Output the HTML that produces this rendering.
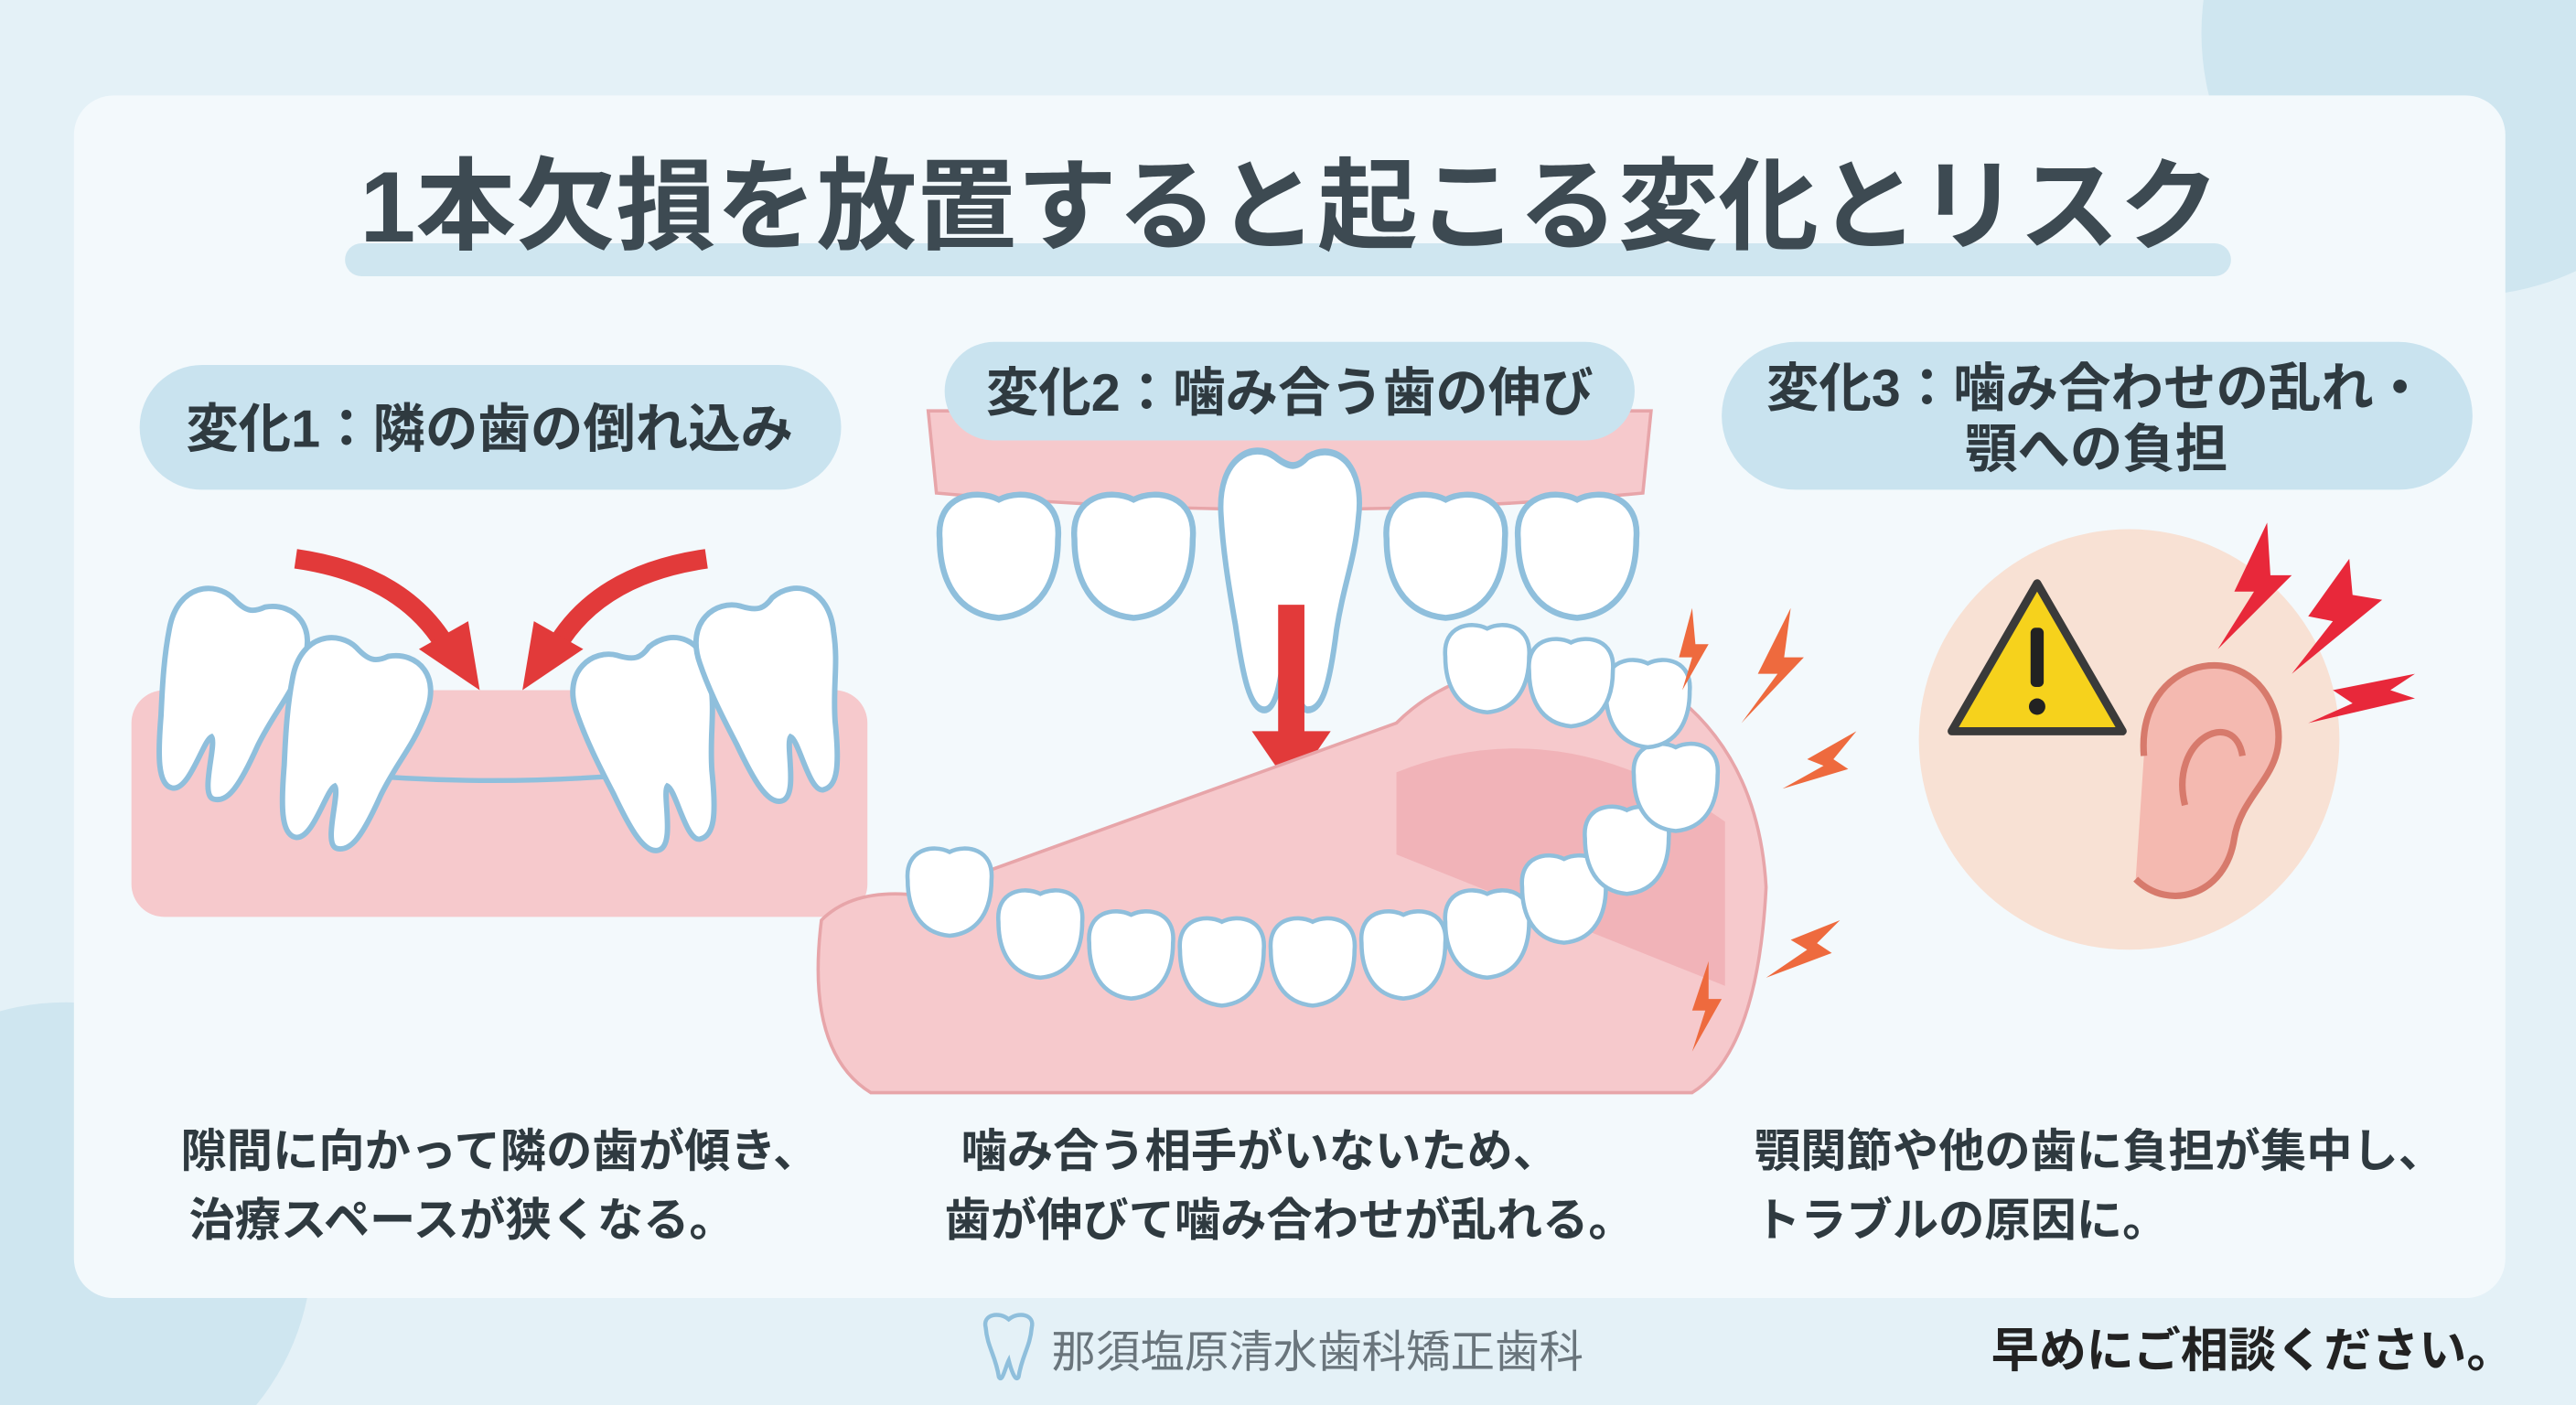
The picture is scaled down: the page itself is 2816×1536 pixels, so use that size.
<!DOCTYPE html>
<html><head><meta charset="utf-8">
<style>
html,body{margin:0;padding:0;background:#e4f1f7;width:2816px;height:1536px;overflow:hidden;}
svg{display:block;}
text{font-family:"Liberation Sans","Noto Sans CJK JP",sans-serif;}
</style></head>
<body>
<svg width="2816" height="1536" viewBox="0 0 1568 855" xmlns="http://www.w3.org/2000/svg">
<defs>
<g id="tooth">
<path d="M-38,-30 C-40,-55 -20,-62 -8,-55 C0,-50 4,-50 10,-55 C25,-62 42,-52 38,-28 C36,-10 30,0 26,20 C22,45 18,55 10,55 C2,55 4,25 0,22 C-4,25 -4,55 -14,55 C-22,55 -26,40 -30,18 C-34,0 -37,-15 -38,-30Z" fill="#fff" stroke="#8fbfdc" stroke-width="3"/>
</g>
<g id="crown">
<path d="M-30,-10 C-32,-32 -12,-36 0,-30 C12,-36 32,-32 30,-10 C30,10 22,28 0,30 C-22,28 -30,10 -30,-10Z" fill="#fff" stroke="#8fbfdc" stroke-width="3"/>
</g>
</defs>
<rect width="1568" height="855" fill="#e4f1f7"/>
<circle cx="1500" cy="20" r="160" fill="#cfe6f0"/>
<circle cx="40" cy="760" r="150" fill="#cfe6f0"/>
<rect x="45" y="58" width="1480" height="732" rx="24" fill="#f3f9fc"/>
<!-- title -->
<rect x="210" y="148" width="1148" height="20" rx="10" fill="#cfe6f0"/>
<text x="785" y="147" text-anchor="middle" font-size="61" font-weight="bold" fill="#3d4a52">1本欠損を放置すると起こる変化とリスク</text>
<!-- pills -->
<rect x="85" y="222" width="427" height="76" rx="38" fill="#c9e3ef"/>
<text x="298" y="272" text-anchor="middle" font-size="32" font-weight="bold" fill="#2f3a40">変化1：隣の歯の倒れ込み</text>
<rect x="1048" y="208" width="457" height="90" rx="45" fill="#c9e3ef"/>
<text x="1276" y="247" text-anchor="middle" font-size="32" font-weight="bold" fill="#2f3a40">変化3：噛み合わせの乱れ・</text>
<text x="1276" y="284" text-anchor="middle" font-size="32" font-weight="bold" fill="#2f3a40">顎への負担</text>
<!-- col1 -->
<rect x="80" y="420" width="448" height="138" rx="20" fill="#f6c9cc"/>
<path d="M200,470 Q300,480 400,470" stroke="#8fbfdc" stroke-width="3" fill="none"/>
<use href="#tooth" transform="translate(135,425) rotate(15) scale(1.1)"/>
<use href="#tooth" transform="translate(210,455) rotate(15) scale(1.1)"/>
<use href="#tooth" transform="translate(400,455) rotate(-15) scale(1.1)"/>
<use href="#tooth" transform="translate(475,425) rotate(-15) scale(1.1)"/>
<path d="M180,340 Q250,350 275,400" stroke="#e23a3a" stroke-width="12" fill="none"/>
<polygon points="255,395 292,420 285,378" fill="#e23a3a"/>
<path d="M430,340 Q360,350 335,400" stroke="#e23a3a" stroke-width="12" fill="none"/>
<polygon points="355,395 318,420 325,378" fill="#e23a3a"/>
<!-- col2 upper -->
<path d="M565,250 L1005,250 L1000,300 Q790,320 570,300Z" fill="#f6c9cc" stroke="#e7a5a9" stroke-width="2"/>
<use href="#crown" transform="translate(608,340) scale(1.2)"/>
<use href="#crown" transform="translate(690,340) scale(1.2)"/>
<use href="#tooth" transform="translate(785,355) scale(1.1,1.4)"/>
<use href="#crown" transform="translate(880,340) scale(1.2)"/>
<use href="#crown" transform="translate(960,340) scale(1.2)"/>
<rect x="575" y="208" width="420" height="60" rx="30" fill="#c9e3ef"/>
<text x="785" y="250" text-anchor="middle" font-size="32" font-weight="bold" fill="#2f3a40">変化2：噛み合う歯の伸び</text>
<rect x="778" y="368" width="16" height="80" fill="#e23a3a"/>
<polygon points="762,445 810,445 786,480" fill="#e23a3a"/>
<!-- col2 lower jaw -->
<path d="M500,560 Q520,540 560,545 L850,440 Q900,390 1000,410 Q1070,450 1075,540 Q1070,640 1030,665 L530,665 Q490,640 500,560Z" fill="#f6c9cc" stroke="#e7a5a9" stroke-width="2"/>
<path d="M850,470 Q950,430 1050,500 L1050,600 Q950,560 850,520Z" fill="#eea5aa" opacity="0.6"/>
<g transform="scale(0.85)">
<use href="#crown" transform="translate(680,640)"/>
<use href="#crown" transform="translate(745,670)"/>
<use href="#crown" transform="translate(810,685)"/>
<use href="#crown" transform="translate(875,690)"/>
<use href="#crown" transform="translate(940,690)"/>
<use href="#crown" transform="translate(1005,685)"/>
<use href="#crown" transform="translate(1065,670)"/>
<use href="#crown" transform="translate(1120,645)"/>
<use href="#crown" transform="translate(1165,610)"/>
<use href="#crown" transform="translate(1200,565)"/>
<use href="#crown" transform="translate(1180,505)"/>
<use href="#crown" transform="translate(1125,490)"/>
<use href="#crown" transform="translate(1065,480)"/>
</g>
<g fill="#ee6a3e">
<polygon points="1090,370 1070,410 1082,410 1060,440 1098,400 1086,400"/>
<polygon points="1030,370 1022,400 1030,400 1024,420 1040,392 1032,392"/>
<polygon points="1130,445 1100,462 1110,466 1085,480 1125,468 1116,462"/>
<polygon points="1120,560 1090,572 1100,578 1075,595 1115,580 1106,574"/>
<polygon points="1040,585 1030,615 1038,615 1030,640 1048,608 1040,608"/>
</g>
<!-- col3 -->
<circle cx="1296" cy="450" r="128" fill="#f8e1d4"/>
<polygon points="1240,355 1292,445 1188,445" fill="#f6d21c" stroke="#3a3a3a" stroke-width="5" stroke-linejoin="round"/>
<rect x="1236" y="382" width="8" height="36" rx="3" fill="#222"/>
<circle cx="1240" cy="430" r="5" fill="#222"/>
<path d="M1305,460 C1300,400 1370,385 1385,435 C1395,470 1365,480 1360,510 C1355,545 1320,555 1300,535" fill="#f4b9b0" stroke="#d77a6c" stroke-width="4"/>
<path d="M1330,490 C1320,450 1360,430 1365,460" fill="none" stroke="#d77a6c" stroke-width="4"/>
<g fill="#e8283a">
<polygon points="1380,318 1360,360 1372,360 1350,395 1395,350 1382,350"/>
<polygon points="1430,340 1405,375 1420,378 1395,410 1450,365 1432,362"/>
<polygon points="1470,410 1420,420 1432,428 1405,440 1470,425 1455,420"/>
</g>
<!-- bottom text -->
<g font-size="28" font-weight="bold" fill="#2f3a40">
<text x="110" y="710">隙間に向かって隣の歯が傾き、</text>
<text x="115" y="752">治療スペースが狭くなる。</text>
<text x="585" y="710">噛み合う相手がいないため、</text>
<text x="575" y="752">歯が伸びて噛み合わせが乱れる。</text>
<text x="1068" y="710">顎関節や他の歯に負担が集中し、</text>
<text x="1068" y="752">トラブルの原因に。</text>
</g>
<!-- footer -->
<path d="M600,808 C598,800 608,798 614,803 C620,798 630,800 628,808 C627,820 622,825 620,838 C618,842 615,832 614,828 C612,832 610,842 608,838 C606,825 601,820 600,808Z" fill="none" stroke="#8fbfdc" stroke-width="2.5"/>
<text x="640" y="832" font-size="27" fill="#6a757c">那須塩原清水歯科矯正歯科</text>
<text x="1212" y="832" font-size="29" font-weight="bold" fill="#222">早めにご相談ください。</text>
</svg>
</body></html>
